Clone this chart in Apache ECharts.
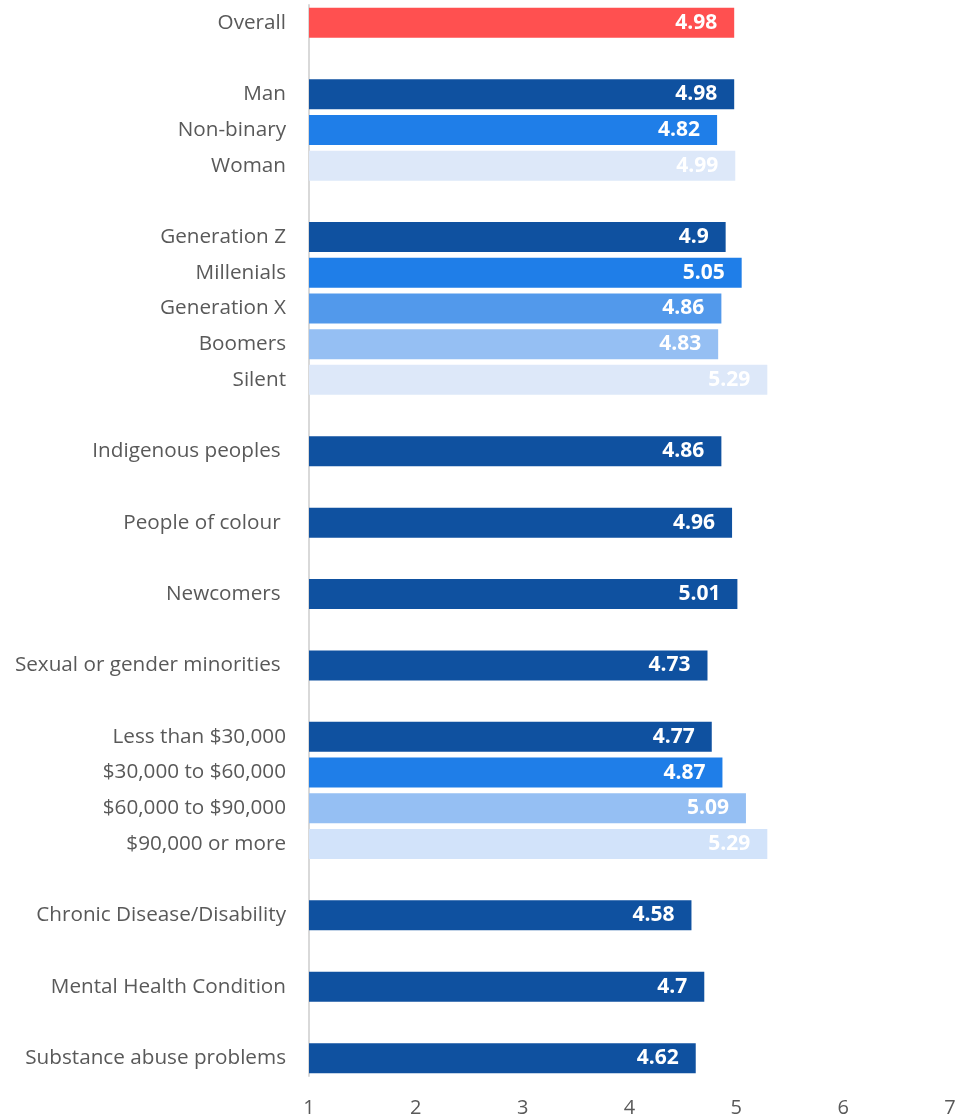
<!DOCTYPE html>
<html>
<head>
<meta charset="utf-8">
<script src="https://cdn.jsdelivr.net/npm/echarts@6/dist/echarts.min.js"></script>
<style>
  html, body { margin: 0; padding: 0; background: #ffffff; }
  #chart { width: 965px; height: 1119px; }
</style>
</head>
<body>
<div id="chart"></div>
<script>
// Rows from top to bottom; empty strings are spacer rows between groups.
const categories = [
  'Overall', '',
  'Man', 'Non-binary', 'Woman', '',
  'Generation Z', 'Millenials', 'Generation X', 'Boomers', 'Silent', '',
  'Indigenous peoples ', '',
  'People of colour ', '',
  'Newcomers ', '',
  'Sexual or gender minorities ', '',
  'Less than $30,000', '$30,000 to $60,000', '$60,000 to $90,000', '$90,000 or more', '',
  'Chronic Disease/Disability', '',
  'Mental Health Condition', '',
  'Substance abuse problems'
];

const values = [
  4.98, null,
  4.98, 4.82, 4.99, null,
  4.9, 5.05, 4.86, 4.83, 5.29, null,
  4.86, null,
  4.96, null,
  5.01, null,
  4.73, null,
  4.77, 4.87, 5.09, 5.29, null,
  4.58, null,
  4.7, null,
  4.62
];

const xTicks = [1, 2, 3, 4, 5, 6, 7];

// Bar fill per row
const palette = {
  red: '#FF5050',
  dark: '#0F51A0',
  mid: '#1F7EE8',
  soft: '#5299EB',
  pale: '#95BFF3',
  faint: '#DDE8F9',
  faint2: '#D2E3FA'
};
const rowColors = [
  'red', null,
  'dark', 'mid', 'faint', null,
  'dark', 'mid', 'soft', 'pale', 'faint', null,
  'dark', null,
  'dark', null,
  'dark', null,
  'dark', null,
  'dark', 'mid', 'pale', 'faint2', null,
  'dark', null,
  'dark', null,
  'dark'
];

const FONT = '"Open Sans", Lato, sans-serif';

const chart = echarts.init(document.getElementById('chart'), null, { renderer: 'canvas' });

chart.setOption({
  animation: false,
  backgroundColor: '#ffffff',
  grid: { left: 309, right: 15, top: 5, bottom: 43, containLabel: false },
  xAxis: {
    type: 'value',
    min: xTicks[0],
    max: xTicks[xTicks.length - 1],
    interval: 1,
    axisLine: { show: false },
    axisTick: { show: false },
    splitLine: { show: false },
    axisLabel: {
      color: '#595959',
      fontFamily: FONT,
      fontSize: 20,
      margin: 22
    }
  },
  yAxis: {
    type: 'category',
    inverse: true,
    data: categories,
    axisLine: { show: true, lineStyle: { color: '#D9D9D9', width: 2 } },
    axisTick: { show: false },
    splitLine: { show: false },
    axisLabel: {
      color: '#595959',
      fontFamily: FONT,
      fontSize: 20.7,
      margin: 23,
      interval: 0
    }
  },
  series: [{
    type: 'bar',
    barWidth: '84%',
    data: values.map((v, i) => ({
      value: v,
      itemStyle: { color: rowColors[i] ? palette[rowColors[i]] : 'transparent' }
    })),
    label: {
      show: true,
      position: 'insideRight',
      distance: 17,
      color: '#ffffff',
      fontFamily: FONT,
      fontWeight: 'bold',
      fontSize: 21,
      formatter: p => (p.value == null ? '' : String(p.value))
    }
  }]
});
</script>
</body>
</html>
